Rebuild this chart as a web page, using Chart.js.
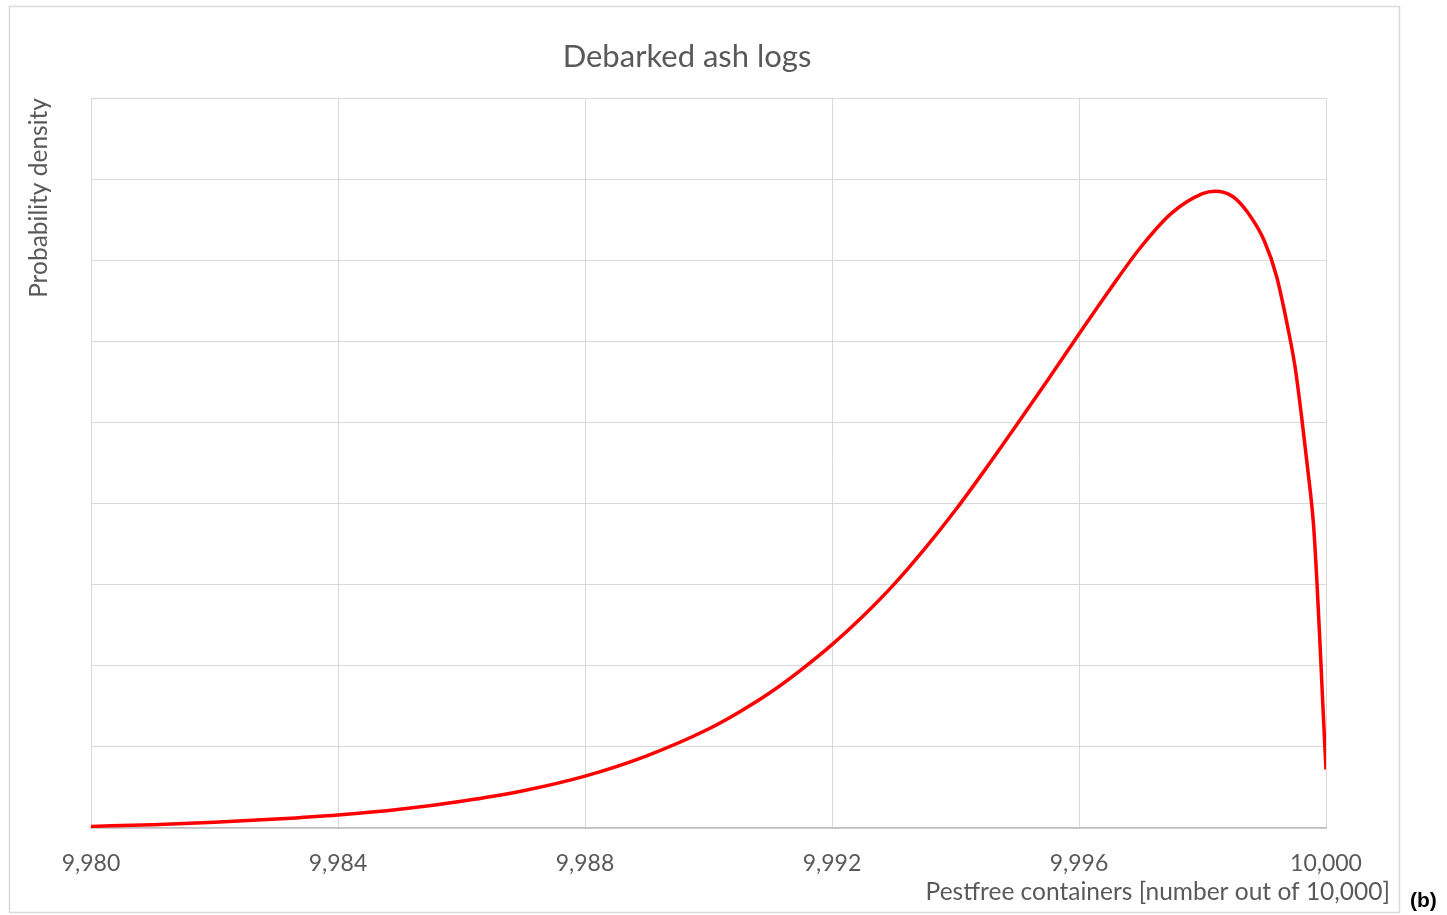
<!DOCTYPE html>
<html>
<head>
<meta charset="utf-8">
<title>Debarked ash logs</title>
<script src="https://cdn.jsdelivr.net/npm/chart.js@4.4.1/dist/chart.umd.min.js"></script>
<style>
  html, body { margin: 0; padding: 0; background: #fff; }
  #wrap { width: 1447px; height: 915px; }
</style>
</head>
<body>
<div id="wrap"><canvas id="chart" width="1447" height="915"></canvas></div>
<script>
// values
const pestfree = [9980, 9981, 9982, 9983, 9984, 9985, 9986, 9987, 9988, 9989,
  9990, 9990.5, 9991, 9991.5, 9992, 9992.5, 9993, 9993.5, 9994, 9994.5,
  9995, 9995.5, 9996, 9996.5, 9997, 9997.5, 9998, 9998.2, 9998.5, 9998.75,
  9999, 9999.2, 9999.4, 9999.5, 9999.6, 9999.7, 9999.8, 9999.85, 9999.9, 9999.95, 10000];
const density = [0.02, 0.04, 0.07, 0.11, 0.16, 0.23, 0.33, 0.46, 0.64, 0.89,
  1.22, 1.43, 1.67, 1.95, 2.26, 2.61, 3.0, 3.44, 3.92, 4.44,
  4.98, 5.53, 6.09, 6.64, 7.16, 7.58, 7.82, 7.85, 7.78, 7.57,
  7.24, 6.8, 6.1, 5.68, 5.1, 4.45, 3.72, 3.08, 2.32, 1.5, 0.72];
const xTicks = [9980, 9984, 9988, 9992, 9996, 10000];

const chartTitle = 'Debarked ash logs';
const xTitle = 'Pestfree containers [number out of 10,000]';
const yTitle = 'Probability density';
const panelLabel = '(b)';

const textColor = '#595959';
const gridColor = '#d9d9d9';
const fontName = 'Lato';

let points = [];
for (let i = 0; i < pestfree.length; i++)
    points.push({x: pestfree[i], y: density[i]});

// border, title, x-axis title and panel letter
const frameAndTexts = {
    id: 'frameAndTexts',
    beforeDraw(chart){
        const ctx = chart.ctx;
        ctx.save();
        ctx.fillStyle = '#fff';
        ctx.fillRect(0, 0, chart.width, chart.height);
        ctx.strokeStyle = gridColor;
        ctx.lineWidth = 1.5;
        ctx.strokeRect(9.5, 6.5, 1390, 906);
        ctx.restore();
    },
    afterDraw(chart){
        const ctx = chart.ctx;
        ctx.save();
        ctx.fillStyle = textColor;
        ctx.textBaseline = 'middle';
        ctx.textAlign = 'center';
        ctx.font = '31px ' + fontName;
        ctx.fillText(chartTitle, 687, 57);
        ctx.textAlign = 'right';
        ctx.font = '24.5px ' + fontName;
        ctx.fillText(xTitle, 1390, 892);
        ctx.fillStyle = '#000';
        ctx.textAlign = 'left';
        ctx.font = 'bold 21px "Liberation Sans"';
        ctx.fillText(panelLabel, 1410, 901);
        ctx.restore();
    }
};

const data = {
    datasets: [{
        label: yTitle,
        data: points,
        showLine: true,
        borderColor: '#ff0000',
        backgroundColor: '#ff0000',
        borderWidth: 3.5,
        pointRadius: 0,
        cubicInterpolationMode: 'monotone'
    }]
};

const config = {
    type: 'scatter',
    data: data,
    options: {
        responsive: false,
        animation: false,
        layout: { padding: { top: 98, right: 121, left: 0, bottom: 0 } },
        plugins: {
            legend: { display: false },
            tooltip: { enabled: false }
        },
        scales: {
            x: {
                type: 'linear',
                min: 9980,
                max: 10000,
                afterFit: (scale) => { scale.height = 87; },
                afterBuildTicks: (scale) => { scale.ticks = xTicks.map(v => ({value: v})); },
                ticks: {
                    color: textColor,
                    font: { family: fontName, size: 23 },
                    padding: 22,
                    maxRotation: 0,
                    callback: (v) => v.toLocaleString('en-US')
                },
                grid: { color: gridColor, drawTicks: false },
                border: { color: '#bfbfbf', width: 1.5 }
            },
            y: {
                min: 0,
                max: 9,
                afterFit: (scale) => { scale.width = 91; },
                ticks: { display: false, stepSize: 1 },
                grid: { color: gridColor, drawTicks: false },
                border: { display: false },
                title: {
                    display: true,
                    text: yTitle,
                    align: 'end',
                    color: textColor,
                    font: { family: fontName, size: 24.5 },
                    padding: { top: 24, bottom: 0 }
                }
            }
        }
    },
    plugins: [frameAndTexts]
};

let ctx = document.getElementById('chart').getContext('2d');
new Chart(ctx, config);
</script>
</body>
</html>
